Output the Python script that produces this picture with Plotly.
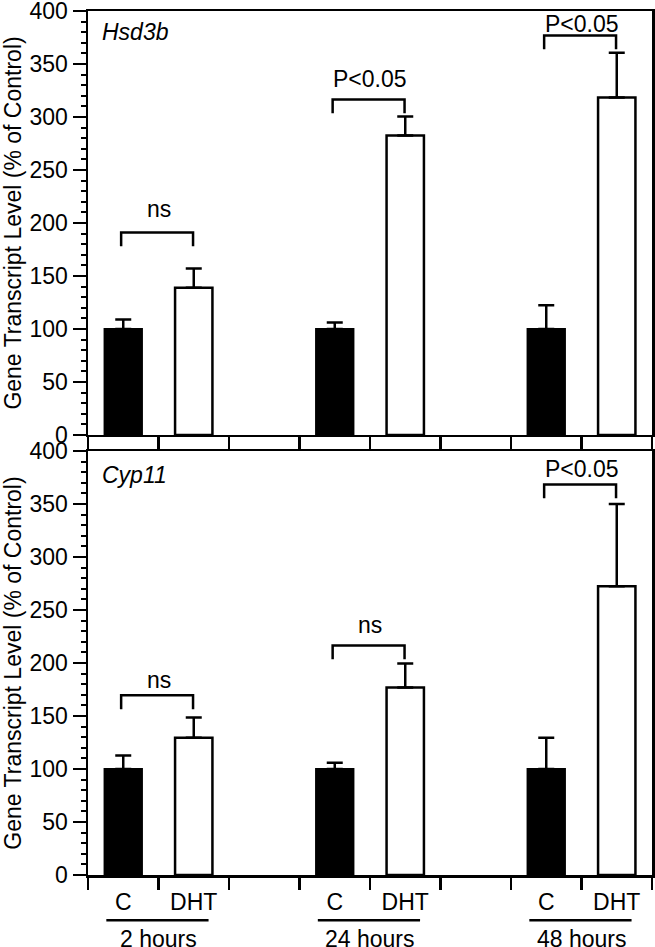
import plotly.graph_objects as go

# ---------------- data ----------------
time_labels = ["2 hours", "24 hours", "48 hours"]
group_labels = ["C", "DHT"]
genes = ["Hsd3b", "Cyp11"]

hsd3b_c_mean = [100, 100, 100]
hsd3b_c_err = [9, 6, 22.5]
hsd3b_dht_mean = [139, 282.5, 318.5]
hsd3b_dht_err = [18, 18, 42]

cyp11_c_mean = [100, 100, 100]
cyp11_c_err = [12.8, 6, 29.5]
cyp11_dht_mean = [129.5, 177, 272.5]
cyp11_dht_err = [19, 22.5, 77.5]

# significance brackets: label, bracket level, text level
hsd3b_sig = ["ns", "P<0.05", "P<0.05"]
hsd3b_bracket = [191, 316.5, 377]
hsd3b_text = [213, 336, 388]

cyp11_sig = ["ns", "ns", "P<0.05"]
cyp11_bracket = [169.5, 216.5, 368.5]
cyp11_text = [184, 236, 383]

y_ticks = [0, 50, 100, 150, 200, 250, 300, 350, 400]
y_title = "Gene Transcript Level (% of Control)"

# ---------------- layout helpers ----------------
FONT = "Liberation Sans, Arial, Helvetica, sans-serif"
LW = 2.5
n_slots = 8
c_x = [3 * i for i in range(len(time_labels))]
d_x = [3 * i + 1 for i in range(len(time_labels))]
boundaries = [i - 0.5 for i in range(n_slots + 1)]

fig = go.Figure()

panels = [
    ("x", "y", hsd3b_c_mean, hsd3b_c_err, hsd3b_dht_mean, hsd3b_dht_err,
     hsd3b_sig, hsd3b_bracket, hsd3b_text),
    ("x2", "y2", cyp11_c_mean, cyp11_c_err, cyp11_dht_mean, cyp11_dht_err,
     cyp11_sig, cyp11_bracket, cyp11_text),
]

for xa, ya, cm, ce, dm, de, sig, br, tx in panels:
    fig.add_trace(go.Bar(
        x=c_x, y=cm, xaxis=xa, yaxis=ya, width=0.53,
        marker=dict(color="black", line=dict(color="black", width=2)),
        error_y=dict(type="data", array=ce, arrayminus=[0] * len(ce),
                     symmetric=False, color="black", thickness=LW, width=8),
        showlegend=False, name="C"))
    fig.add_trace(go.Bar(
        x=d_x, y=dm, xaxis=xa, yaxis=ya, width=0.53,
        marker=dict(color="white", line=dict(color="black", width=2.5)),
        error_y=dict(type="data", array=de, arrayminus=[0] * len(de),
                     symmetric=False, color="black", thickness=LW, width=8),
        showlegend=False, name="DHT"))
    for i in range(len(time_labels)):
        x0 = c_x[i] - 0.03
        x1 = d_x[i] - 0.01
        yb = br[i]
        yl = yb - 13
        fig.add_shape(type="path",
                      path=f"M {x0},{yl} L {x0},{yb} L {x1},{yb} L {x1},{yl}",
                      xref=xa, yref=ya, line=dict(color="black", width=LW))
        fig.add_annotation(x=(c_x[i] + d_x[i]) / 2, y=tx[i], xref=xa, yref=ya,
                           text=sig[i], showarrow=False,
                           font=dict(family=FONT, size=23, color="black"))

# gene names
fig.add_annotation(x=0.021, y=0.95, xref="x domain", yref="y domain",
                   text="<i>" + genes[0] + "</i>", showarrow=False,
                   xanchor="left", yanchor="middle",
                   font=dict(family=FONT, size=23, color="black"))
fig.add_annotation(x=0.021, y=0.943, xref="x2 domain", yref="y2 domain",
                   text="<i>" + genes[1] + "</i>", showarrow=False,
                   xanchor="left", yanchor="middle",
                   font=dict(family=FONT, size=23, color="black"))

# time group underlines and labels
for i, t in enumerate(time_labels):
    fig.add_shape(type="line", x0=c_x[i] - 0.24, x1=d_x[i] + 0.21,
                  y0=-0.0525, y1=-0.0525, xref="x2", yref="paper",
                  line=dict(color="black", width=LW))
    fig.add_annotation(x=(c_x[i] + d_x[i]) / 2, y=-0.074, xref="x2",
                       yref="paper", text=t, showarrow=False,
                       yanchor="middle",
                       font=dict(family=FONT, size=23, color="black"))

xcommon = dict(range=[-0.5, n_slots - 0.5], showline=True, linewidth=LW,
               linecolor="black", mirror=True, showgrid=False, zeroline=False,
               fixedrange=True, automargin=False)
ycommon = dict(range=[0, 400], tickvals=y_ticks, ticks="outside", ticklen=13,
               tickwidth=LW, tickcolor="black", showline=True, linewidth=LW,
               linecolor="black", mirror=True, showgrid=False, zeroline=False,
               automargin=False, ticklabeloverflow="allow",
               tickfont=dict(family=FONT, size=23, color="black"),
               minor=dict(dtick=10, tick0=0, ticks="outside", ticklen=5,
                          tickwidth=2, tickcolor="black", showgrid=False),
               title=dict(text=y_title, standoff=2,
                          font=dict(family=FONT, size=23, color="black")))

fig.update_layout(
    width=655, height=947,
    margin=dict(l=88, r=3, t=11, b=72),
    paper_bgcolor="white", plot_bgcolor="white",
    barmode="overlay",
    xaxis=dict(**xcommon, anchor="y", domain=[0, 1], tickmode="array",
               tickvals=boundaries, ticks="outside", ticklen=12,
               tickwidth=LW, tickcolor="black", showticklabels=False),
    yaxis=dict(**ycommon, anchor="x", domain=[0.5093, 1]),
    xaxis2=dict(**xcommon, anchor="y2", domain=[0, 1], tickmode="array",
                tickvals=c_x + d_x,
                ticktext=[group_labels[0]] * 3 + [group_labels[1]] * 3,
                ticks="outside", ticklen=5, tickwidth=LW,
                tickcolor="rgba(0,0,0,0)", ticklabeloverflow="allow",
                tickfont=dict(family=FONT, size=23, color="black"),
                minor=dict(tickmode="array", tickvals=boundaries,
                           ticks="outside", ticklen=12, tickwidth=LW,
                           tickcolor="black", showgrid=False)),
    yaxis2=dict(**ycommon, anchor="x2", domain=[0, 0.4907]),
)

fig.write_html(
    "out.html",
    config={"displayModeBar": False, "staticPlot": True},
    post_script="document.body.style.margin='0';"
                "document.body.style.overflow='hidden';",
)
